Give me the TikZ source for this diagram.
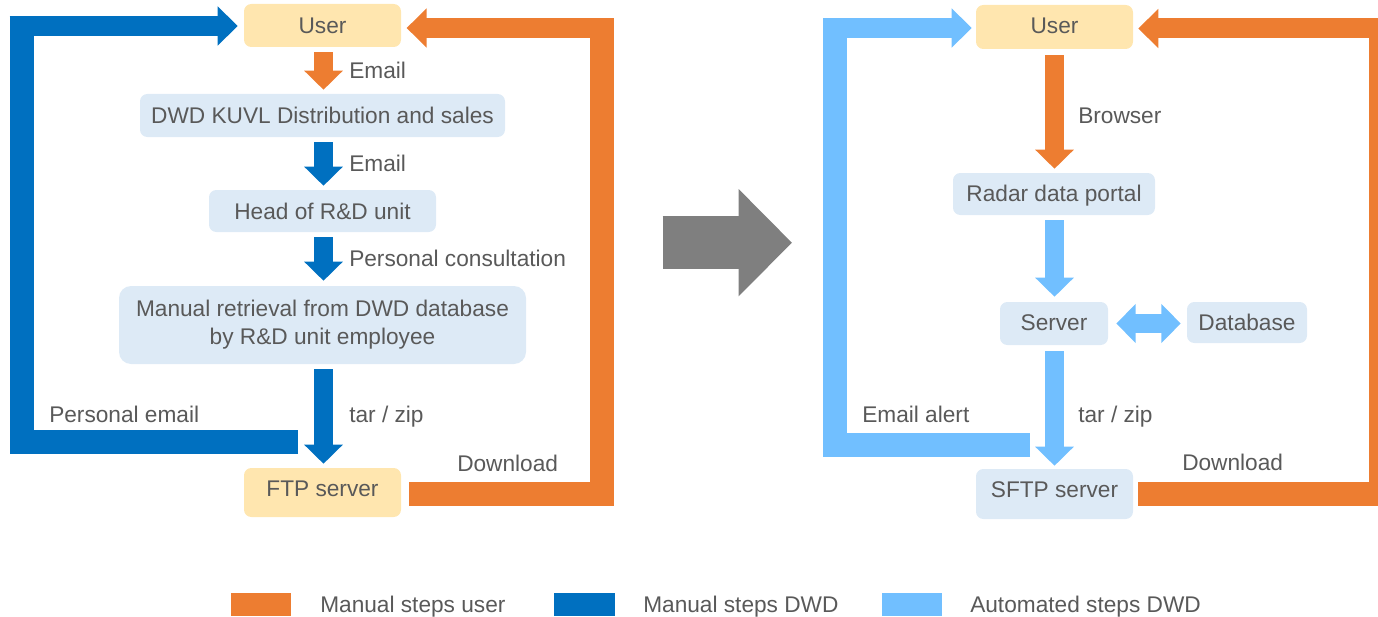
\documentclass[tikz,border=0pt]{standalone}
\usepackage{fontspec}
\setmainfont{Liberation Sans}
\usetikzlibrary{arrows.meta,calc}
\definecolor{cOrange}{HTML}{ED7D31}
\definecolor{cBlue}{HTML}{0070C0}
\definecolor{cLight}{HTML}{71BFFF}
\definecolor{cBox}{HTML}{DDEAF6}
\definecolor{cYellow}{HTML}{FFE6AF}
\definecolor{cText}{HTML}{595959}
\definecolor{cGrey}{HTML}{7F7F7F}
\tikzset{
  off/.code={\pgfmathsetmacro\hh{(14+#1)*.75}\pgfmathsetmacro\dd{(14-#1)*.75}\tikzset{text height=\hh pt,text depth=\dd pt}},
  bx/.style 2 args={inner sep=0pt,rounded corners=5.5pt,minimum width=#1*.75pt,minimum height=#2*.75pt,text=cText,align=center},
  lightbox/.style={fill=cBox},
  yellowbox/.style={fill=cYellow},
  lab/.style={inner sep=0pt,anchor=base west,text=cText},
  flow/.style={line width=14.25pt,-{Triangle[length=14.25pt,width=28.1pt]}},
  wide/.style={line width=18pt,line join=miter},
  top/.style={line width=15pt,-{Triangle[length=15pt,width=28.5pt]}},
  legend/.style={inner sep=0pt,minimum width=60*.75pt,minimum height=23*.75pt},
}
\begin{document}
\begin{tikzpicture}[x=.75pt,y=-.75pt,font=\fontsize{17pt}{20.8pt}\selectfont]
\clip (0,0) rectangle (1378,617);
% left boxes
\node[bx={157}{43},yellowbox,off=7.6] (u) at (322.5,25.5) {User};
\node[bx={365}{43},lightbox,off=7.5] (dwd) at (322.5,115.5) {DWD KUVL Distribution and sales};
\node[bx={227}{42},lightbox,off=8] (head) at (322.5,211) {Head of R\&D unit};
\node[bx={407}{78},lightbox,rounded corners=9pt] (man) at (322.5,325) {\raisebox{.75pt}{Manual retrieval from DWD database}\\\raisebox{.75pt}{by R\&D unit employee}};
\node[bx={157}{49},yellowbox,off=3.5] (ftp) at (322.5,492.5) {FTP server};
% right boxes
\node[bx={157}{44},yellowbox,off=6.7] (u2) at (1054.5,27) {User};
\node[bx={202}{42},lightbox,off=7] (radar) at (1054,194) {Radar data portal};
\node[bx={108}{43},lightbox,off=6.5] (server) at (1054,323.5) {Server};
\node[bx={120}{41},lightbox,off=7.5] (db) at (1247,322.5) {Database};
\node[bx={157}{50},lightbox,off=3] (sftp) at (1054.5,494) {SFTP server};
% straight arrows left
\draw[flow,cOrange,shorten <=3.75pt,shorten >=3pt] ([xshift=.75pt]u.south) -- ([xshift=.75pt]dwd.north);
\draw[flow,cBlue,shorten <=3.75pt,shorten >=3pt] ([xshift=.75pt]dwd.south) -- ([xshift=.75pt]head.north);
\draw[flow,cBlue,shorten <=3.75pt,shorten >=3.75pt] ([xshift=.75pt]head.south) -- ([xshift=.75pt]man.north);
\draw[flow,cBlue,shorten <=3.75pt,shorten >=3pt] ([xshift=.75pt]man.south) -- ([xshift=.75pt]ftp.north);
% straight arrows right
\draw[flow,cOrange,shorten <=4.5pt,shorten >=3pt] (u2.south) -- (u2.south |- radar.north);
\draw[flow,cLight,shorten <=3.75pt,shorten >=3.75pt] (radar.south -| u2.south) -- (u2.south |- server.north);
\draw[flow,cLight,shorten <=4.5pt,shorten >=2.25pt] (server.south -| u2.south) -- (sftp.north);
\draw[line width=14.25pt,cLight,{Triangle[length=14.6pt,width=28.5pt]}-{Triangle[length=14.6pt,width=28.5pt]},shorten <=6pt,shorten >=4.5pt] (server.east) -- (db.west |- server.east);
% left blue loop
\coordinate (bS) at (298,442);
\coordinate (bC) at (21.5,442);
\coordinate (bT) at (21.5,16);
\coordinate (bL) at (9.5,26);
\draw[wide,cBlue] (bS) -- (bC) -- (bT);
\draw[top,cBlue,shorten >=4.5pt] (bL) -- ($(u.west)+(0,.5)$);
% left orange loop
\coordinate (oC) at (601.75,494);
\coordinate (oT) at (601.75,18);
\coordinate (oR) at (613.5,28);
\draw[wide,cOrange,shorten <=6pt] ($(ftp.east)+(0,1.5)$) -- (oC) -- (oT);
\draw[top,cOrange,shorten >=4pt] (oR) -- ($(u.east)+(0,2.5)$);
% right light loop
\coordinate (lS) at (1030,445);
\coordinate (lC) at (834.75,445);
\coordinate (lT) at (834.75,18);
\coordinate (lL) at (823,28);
\draw[wide,cLight] (lS) -- (lC) -- (lT);
\draw[top,cLight,shorten >=3pt] (lL) -- ($(u2.west)+(0,1)$);
% right orange loop
\coordinate (rC) at (1381,494);
\coordinate (rT) at (1381,19);
\coordinate (rR) at (1392,28.5);
\draw[wide,cOrange,shorten <=3.75pt] (sftp.east) -- (rC) -- (rT);
\draw[top,cOrange,shorten >=3.75pt] (rR) -- ($(u2.east)+(0,1.5)$);
% grey arrow
\coordinate (gS) at (662.5,242.7);
\coordinate (gE) at (792,242.7);
\draw[cGrey,line width=39.75pt,-{Triangle[length=40pt,width=78pt]}] (gS) -- (gE);
% labels
\node[lab] (l1) at (349,78.7) {Email};
\node[lab] (l2) at (349,171.7) {Email};
\node[lab] (l3) at (349,266) {Personal consultation};
\node[lab] (l4) at (349,422) {tar / zip};
\node[lab] (l5) at (49,422) {Personal email};
\node[lab] (l6) at (457,471) {Download};
\node[lab] (r1) at (1078,123) {Browser};
\node[lab] (r2) at (1078,422) {tar / zip};
\node[lab] (r3) at (862,422) {Email alert};
\node[lab] (r4) at (1182,470) {Download};
% legend
\node[legend,fill=cOrange] (k1) at (261,604.5) {};
\node[legend,fill=cBlue,minimum width=61*.75pt] (k2) at (584.5,604.5) {};
\node[legend,fill=cLight] (k3) at (911.5,604.5) {};
\node[lab] (t1) at (320,612) {Manual steps user};
\node[lab] (t2) at (643,612) {Manual steps DWD};
\node[lab] (t3) at (970,612) {Automated steps DWD};
\end{tikzpicture}
\end{document}
